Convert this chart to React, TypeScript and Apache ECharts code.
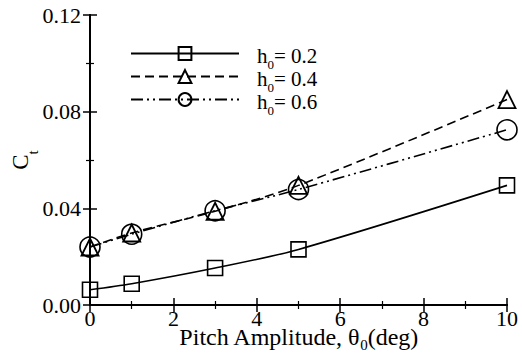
import React, { useEffect, useRef } from "react";
import * as echarts from "echarts";

const pitchAmplitude = [0, 1, 3, 5, 10];
const ctH02 = [0.0063, 0.0088, 0.0153, 0.0230, 0.0495];
const ctH04 = [0.0240, 0.0298, 0.0388, 0.0495, 0.0850];
const ctH06 = [0.0240, 0.0293, 0.0390, 0.0478, 0.0725];
const xTicks = [0, 2, 4, 6, 8, 10];
const yTicks = [0.0, 0.04, 0.08, 0.12];

const FONT = "Liberation Serif";

export default function App() {
  const ref = useRef<HTMLDivElement>(null);
  useEffect(() => {
    if (!ref.current) return;
    const chart = echarts.init(ref.current, undefined, { renderer: "svg" });
    const pair = (ys: number[]) => pitchAmplitude.map((x, i) => [x, ys[i]]);
    const axisCommon = {
      axisLine: { show: true, lineStyle: { color: "#000", width: 2 } },
      axisTick: { show: true, inside: true, length: 7, lineStyle: { color: "#000", width: 1.5 } },
      minorTick: { show: true, splitNumber: 2, length: 4, lineStyle: { color: "#000", width: 1.2 } },
      splitLine: { show: false },
    };
    const xNameRich = {
      n: { fontFamily: FONT, fontSize: 24, color: "#000", lineHeight: 18, verticalAlign: "middle" },
      sub: { fontFamily: FONT, fontSize: 15, color: "#000", lineHeight: 18, verticalAlign: "top", padding: [9, 0, 0, 0] },
    };
    const yNameRich = {
      n: { fontFamily: FONT, fontSize: 23, color: "#000", lineHeight: 18, verticalAlign: "middle" },
      sub: { fontFamily: FONT, fontSize: 15, color: "#000", lineHeight: 18, verticalAlign: "top", padding: [14, 0, 0, 0] },
    };
    const legRich = {
      n: { fontFamily: FONT, fontSize: 21, color: "#000", lineHeight: 21, verticalAlign: "middle" },
      sub: { fontFamily: FONT, fontSize: 13, color: "#000", lineHeight: 21, verticalAlign: "top", padding: [13, 0, 0, 0] },
    };
    chart.setOption({
      animation: false,
      backgroundColor: "#fff",
      grid: { left: 90, right: 15, top: 15, bottom: 48, outerBoundsMode: "none", containLabel: false },
      legend: {
        orient: "vertical",
        left: 125,
        top: 40,
        itemWidth: 108,
        itemHeight: 16,
        itemGap: -3,
        data: ["h02", "h04", "h06"],
        formatter: (name: string) => {
          const v = name === "h02" ? "0.2" : name === "h04" ? "0.4" : "0.6";
          return "{n|h}{sub|0}{n|= " + v + "}";
        },
        textStyle: {
          fontFamily: FONT,
          fontSize: 21,
          color: "#000",
          padding: [4, 0, 0, 13],
          rich: legRich,
        },
      },
      xAxis: [
        {
          type: "value",
          min: 0,
          max: 10,
          interval: 2,
          name: "{n|Pitch Amplitude, θ}{sub|0}{n|(deg)}",
          nameLocation: "middle",
          nameGap: 23,
          nameMoveOverlap: false,
          nameTextStyle: { fontFamily: FONT, fontSize: 24, color: "#000", rich: xNameRich },
          axisLabel: {
            fontFamily: FONT,
            fontSize: 22,
            lineHeight: 14,
            color: "#000",
            margin: 6,
            formatter: (v: number) => (xTicks.includes(v) ? String(v) : ""),
          },
          ...axisCommon,
        },
        {
          type: "value",
          position: "top",
          min: 0,
          max: 10,
          interval: 2,
          axisLabel: { show: false },
          ...axisCommon,
        },
      ],
      yAxis: [
        {
          type: "value",
          min: 0,
          max: 0.12,
          interval: 0.04,
          name: "{n|C}{sub|t}",
          nameLocation: "middle",
          nameGap: 61,
          nameMoveOverlap: false,
          nameTextStyle: { fontFamily: FONT, fontSize: 23, color: "#000", rich: yNameRich },
          axisLabel: {
            fontFamily: FONT,
            fontSize: 22,
            color: "#000",
            margin: 9,
            formatter: (v: number) => (yTicks.some((t) => Math.abs(t - v) < 1e-9) ? v.toFixed(2) : ""),
          },
          ...axisCommon,
        },
        {
          type: "value",
          position: "right",
          min: 0,
          max: 0.12,
          interval: 0.04,
          axisLabel: { show: false },
          ...axisCommon,
        },
      ],
      series: [
        {
          name: "h02",
          type: "line",
          smooth: 0.3,
          data: pair(ctH02),
          symbol: "rect",
          symbolSize: 15,
          lineStyle: { color: "#000", width: 1.6, type: "solid" },
          itemStyle: { color: "rgba(255,255,255,0)", borderColor: "#000", borderWidth: 1.6 },
          z: 3,
        },
        {
          name: "h04",
          type: "line",
          smooth: 0.3,
          data: pair(ctH04),
          symbol: "triangle",
          symbolSize: 17,
          lineStyle: { color: "#000", width: 1.6, type: [9, 5] },
          itemStyle: { color: "rgba(255,255,255,0)", borderColor: "#000", borderWidth: 1.8 },
          z: 3,
        },
        {
          name: "h06",
          type: "line",
          smooth: 0.3,
          data: pair(ctH06),
          symbol: "circle",
          symbolSize: 20,
          lineStyle: { color: "#000", width: 1.6, type: [12, 4, 2, 4, 2, 4] },
          itemStyle: { color: "rgba(255,255,255,0)", borderColor: "#000", borderWidth: 1.6 },
          z: 3,
        },
      ],
    });
    return () => chart.dispose();
  }, []);
  return (
    <div
      ref={ref}
      style={{ position: "fixed", left: 0, top: 0, width: 522, height: 353 }}
    />
  );
}
